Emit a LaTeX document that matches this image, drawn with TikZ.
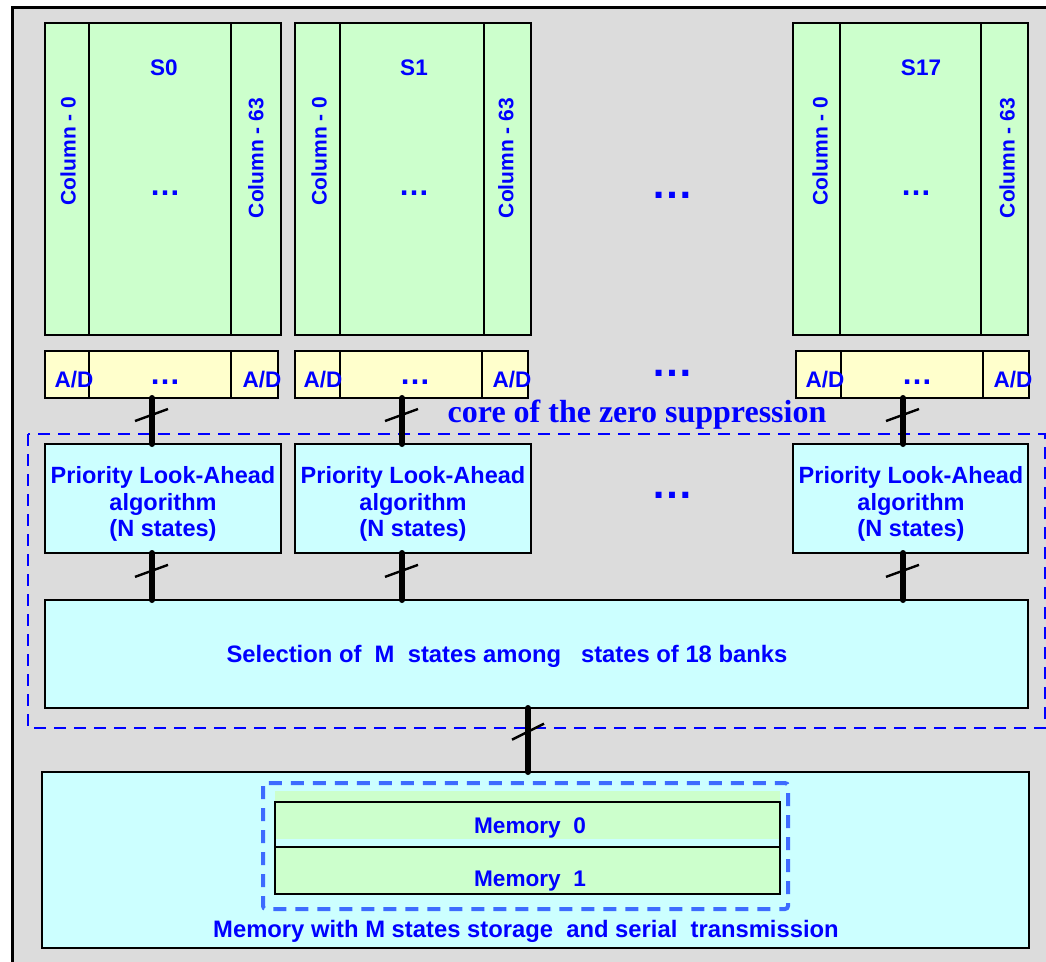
\documentclass[tikz,border=0pt]{standalone}
\usepackage{fontspec}
\setmainfont{Liberation Sans}
\newfontfamily\serifbf{Liberation Serif}
\usetikzlibrary{calc}
\definecolor{bg}{HTML}{DCDCDC}
\definecolor{bankg}{HTML}{CCFFCC}
\definecolor{ady}{HTML}{FFFFCC}
\definecolor{cyanf}{HTML}{CCFFFF}
\definecolor{tblue}{HTML}{0000FF}
\definecolor{memdash}{HTML}{3D6BFF}
\begin{document}
\begin{tikzpicture}[x=1pt,y=-1pt,
  blk/.style={draw=black, line width=2.4pt, inner sep=0pt, outer sep=0pt, anchor=north west},
  divline/.style={line width=2.4pt},
  lbl/.style={text=tblue, font=\bfseries\fontsize{22.5}{26.5}\selectfont, align=center, inner sep=0pt},
  collbl/.style={lbl, rotate=90, font=\bfseries\fontsize{21}{24}\selectfont},
  smdots/.style={lbl, anchor=base, font=\bfseries\fontsize{31}{34}\selectfont},
  bigdots/.style={lbl, anchor=base, font=\bfseries\fontsize{42}{44}\selectfont},
  bus/.style={line width=6pt, line cap=round},
  tickmark/.style={line width=2.4pt},
  zonedash/.style={draw=tblue, line width=2pt, dash pattern=on 12pt off 8pt},
  memzone/.style={draw=memdash, line width=4pt, dash pattern=on 13pt off 9pt, rounded corners=3pt},
]
\useasboundingbox (0,0) rectangle (1046,961);
\clip (0,0) rectangle (1046,961);
\fill[white] (0,0) rectangle (1046,961);
\draw[fill=bg, line width=3pt] (12,7) rectangle (1080,1000);

% banks
\foreach \n/\l/\da/\db/\r/\lab/\lx/\dx/\ca/\cb in
  {0/45/89/231/281/S0/164/165/68/256, 1/295/340/484/531/S1/414/414/319/506, 17/793/840/981/1028/S17/921/916/820/1007}{
  \node[blk, fill=bankg, minimum width={\r-\l}, minimum height=312] (bank\n) at (\l,23) {};
  \draw[divline] (\da,23) -- (\da,335);
  \draw[divline] (\db,23) -- (\db,335);
  \node[lbl] at (\lx,68) {\lab};
  \node[smdots] at (\dx,195) {…};
  \node[collbl] at (\ca,151) {Column - 0};
  \node[collbl] at (\cb,158) {Column - 63};
}

% A/D rows
\foreach \n/\l/\da/\db/\r/\xa/\xd/\xb in
  {0/45/89/231/278/74/165/262, 1/295/340/482/528/323/415/512, 17/796/841/983/1029/825/917/1013}{
  \node[blk, fill=ady, minimum width={\r-\l}, minimum height=47] (ad\n) at (\l,351) {};
  \draw[divline] (\da,351) -- (\da,398);
  \draw[divline] (\db,351) -- (\db,398);
  \node[lbl] at (\xa,380) {A/D};
  \node[smdots] at (\xd,384) {…};
  \node[lbl] at (\xb,380) {A/D};
}

% zero suppression zone
\draw[zonedash] (28,434) rectangle (1045,728);
\node[text=tblue, font=\serifbf\bfseries\fontsize{32}{34}\selectfont, inner sep=0pt] (zlabel) at (637,415) {core of the zero suppression};

% PLA boxes
\foreach \n/\l/\r/\tx/\bx in {0/45/281/163/152, 1/295/531/413/402, 17/793/1028/912/903}{
  \node[blk, fill=cyanf, minimum width={\r-\l}, minimum height=109] (pla\n) at (\l,444) {};
  \node[lbl, font=\bfseries\fontsize{23.5}{26.5}\selectfont] at (163-45+\l,504) {Priority Look-Ahead\\algorithm\\(N states)};
}

% middle ellipses
\node[bigdots] at (672,198) {…};
\node[bigdots] at (672,376) {…};
\node[bigdots] at (672,498) {…};

% selection
\node[blk, fill=cyanf, minimum width=983, minimum height=108] (sel) at (45,600) {};
\node[lbl, font=\bfseries\fontsize{23.8}{26}\selectfont] at (507,656) {Selection of\ \ M\ \ states among\ \ \ states of 18 banks};

% memory
\node[blk, fill=cyanf, minimum width=987, minimum height=176] (mem) at (42,772) {};
\fill[bankg] (275,791) rectangle (780,839);
\node[blk, draw=black, line width=2pt, minimum width=505, minimum height=45] (mem0) at (275,802) {};
\node[blk, fill=bankg, line width=2pt, minimum width=505, minimum height=47] (mem1) at (275,847) {};
\draw[memzone] (263,783) rectangle (788,909);
\node[lbl, font=\bfseries\fontsize{22.6}{24}\selectfont] at (530,828) {Memory\ \ 0};
\node[lbl, font=\bfseries\fontsize{22.6}{24}\selectfont] at (530,881) {Memory\ \ 1};
\node[lbl, font=\bfseries\fontsize{23.8}{26}\selectfont] at (526,931) {Memory with M states storage\ \ and serial\ \ transmission};

% buses
\foreach \n/\bx in {0/152, 1/402, 17/903}{
  \coordinate (bx\n) at (\bx,0);
  \draw[bus] (ad\n.south -| bx\n) -- (pla\n.north -| bx\n);
  \draw[tickmark] ($(ad\n.south -| bx\n)!0.37!(pla\n.north -| bx\n) + (-17,6)$) -- ++(33,-12);
  \draw[bus] (pla\n.south -| bx\n) -- (sel.north -| bx\n);
  \draw[tickmark] ($(pla\n.south -| bx\n)!0.38!(sel.north -| bx\n) + (-17,6)$) -- ++(33,-12);
}
\coordinate (bm) at (528,0);
\draw[bus] (sel.south -| bm) -- (mem.north -| bm);
\draw[tickmark] ($(sel.south -| bm)!0.37!(mem.north -| bm) + (-16,8)$) -- ++(32,-16);
\end{tikzpicture}
\end{document}
